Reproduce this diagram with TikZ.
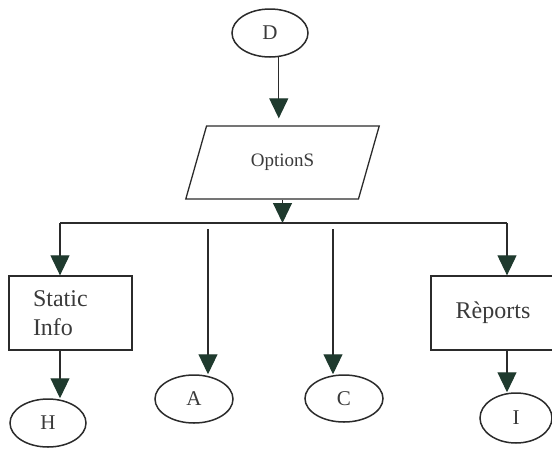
\documentclass[tikz,border=0pt]{standalone}
\usepackage{fontspec}
\setmainfont{Liberation Serif}
\usetikzlibrary{arrows.meta,shapes.geometric}
\definecolor{inkline}{HTML}{2B2B2B}
\definecolor{tipgreen}{HTML}{1F3A2E}
\definecolor{inktext}{HTML}{3A3A3A}

\begin{document}
\begin{tikzpicture}[x=1pt,y=-1pt,
  every node/.style={text=inktext, inner sep=0pt},
  oval/.style={draw=inkline, line width=1.5pt, ellipse, minimum width=76pt,
    minimum height=48pt, font=\fontsize{21}{25}\selectfont},
  block/.style={draw=inkline, line width=1.3pt, rectangle, minimum height=74pt,
    font=\fontsize{24}{29}\selectfont},
  io/.style={draw=inkline, line width=1.3pt, trapezium,
    trapezium left angle=62.5, trapezium right angle=117.5,
    trapezium stretches=true, minimum width=195pt, minimum height=73pt,
    font=\fontsize{19}{23}\selectfont},
  flow/.style={draw=inkline, line width=1.1pt,
    -{Triangle[width=19pt,length=20pt,color=tipgreen]}},
  link/.style={draw=inkline, line width=1.1pt}]

\useasboundingbox (0,0) rectangle (552,448);

% terminals and process blocks
\node[oval] (D) at (270,33) {D};
\node[io] (opt) at (282.5,162.5) {OptionS};
\node[block, minimum width=123pt, text width=75pt, inner xsep=24pt,
  align=left] (static) at (70.5,313) {Static\\Info};
\node[block, minimum width=124pt] (rep) at (493,313) {Rèports};
\node[oval] (H) at (48,423) {H};
\node[oval, minimum width=78pt] (A) at (194,399) {A};
\node[oval, minimum width=78pt, minimum height=47pt] (C) at (344,398.5) {C};
\node[oval, minimum width=72pt, minimum height=50pt] (I) at (516,418) {I};

% distribution bar
\coordinate (barL) at (60,223);
\coordinate (barR) at (507,223);
\coordinate (aTop) at (208,229);
\coordinate (cTop) at (333,229);

% connectors
\draw[flow, shorten >=7pt] (D.-70) -- (D.-70 |- opt.north);
\draw[flow] (opt.center |- opt.south) -- (opt.center |- barL);
\draw[link] (barL) -- (barR);
\draw[flow] (barL) -- (barL |- static.north);
\draw[flow] (barR) -- (barR |- rep.north);
\draw[flow] (aTop) -- (aTop |- A.north);
\draw[flow] (cTop) -- (cTop |- C.north);
\draw[flow] (barL |- static.south) -- (barL |- H.north);
\draw[flow] (barR |- rep.south) -- (barR |- I.north);
\end{tikzpicture}
\end{document}
